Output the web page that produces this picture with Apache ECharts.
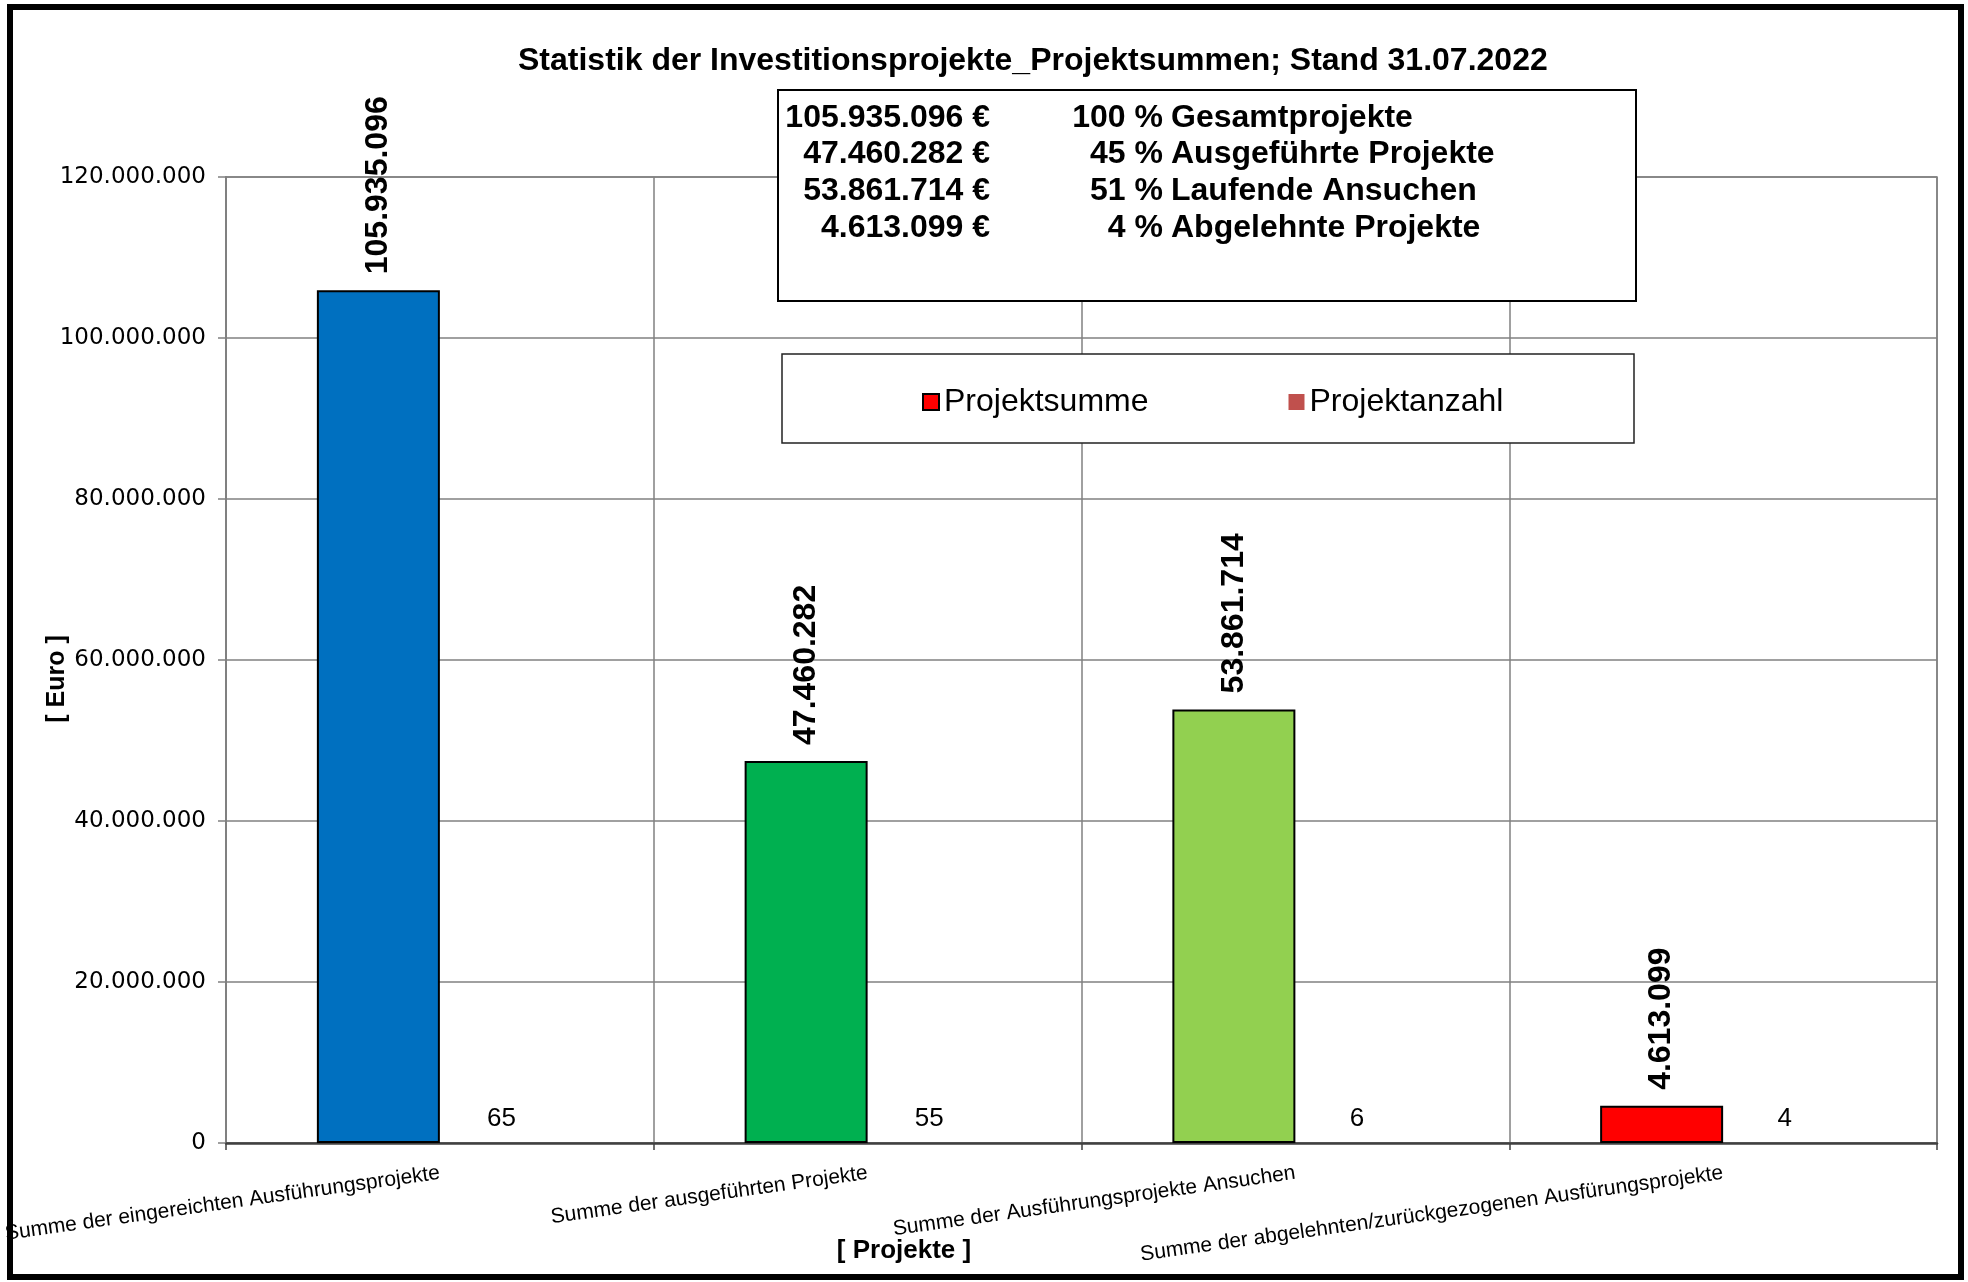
<!DOCTYPE html>
<html>
<head>
<meta charset="utf-8">
<script src="https://cdn.jsdelivr.net/npm/echarts@6/dist/echarts.min.js"></script>
<style>
html,body{margin:0;padding:0;background:#fff;}
#chart{width:1968px;height:1282px;}
</style>
</head>
<body>
<div id="chart"></div>
<script>
// ---- data ----
const titleText = 'Statistik der Investitionsprojekte_Projektsummen; Stand 31.07.2022';
const categories = [
  'Summe der eingereichten Ausführungsprojekte',
  'Summe der ausgeführten Projekte',
  'Summe der Ausführungsprojekte Ansuchen',
  'Summe der abgelehnten/zurückgezogenen Ausfürungsprojekte'
];
const projektsumme = [105935096, 47460282, 53861714, 4613099];
const projektanzahl = [65, 55, 6, 4];
const barColors = ['#0070C0', '#00B050', '#92D050', '#FF0000'];
const seriesNames = ['Projektsumme', 'Projektanzahl'];
const summaryPercents = ['100 %', '45 %', '51 %', '4 %'];
const summaryNames = ['Gesamtprojekte', 'Ausgeführte Projekte', 'Laufende Ansuchen', 'Abgelehnte Projekte'];
const yAxisName = '[ Euro ]';
const xAxisName = '[ Projekte ]';

// ---- helpers ----
const FF = '"Liberation Sans", Arial, sans-serif';
function fmt(v){ return String(Math.round(v)).replace(/\B(?=(\d{3})+(?!\d))/g, '.'); }

const chart = echarts.init(document.getElementById('chart'));

const summaryTexts = [];
const rowY = [118, 154, 191, 228];
projektsumme.forEach((v, i) => {
  summaryTexts.push({type:'text', x:990, y:rowY[i], z:6,
    style:{text: fmt(v) + ' €', font:'bold 32px ' + FF, fill:'#000', textAlign:'right', textVerticalAlign:'middle'}});
  summaryTexts.push({type:'text', x:1163, y:rowY[i], z:6,
    style:{text: summaryPercents[i], font:'bold 32px ' + FF, fill:'#000', textAlign:'right', textVerticalAlign:'middle'}});
  summaryTexts.push({type:'text', x:1171, y:rowY[i], z:6,
    style:{text: summaryNames[i], font:'bold 32px ' + FF, fill:'#000', textAlign:'left', textVerticalAlign:'middle'}});
});

const option = {
  animation: false,
  backgroundColor: '#fff',
  title: {
    text: titleText,
    left: 518, top: 45, padding: 0,
    textStyle: {fontFamily: FF, fontSize: 32, fontWeight: 'bold', color: '#000'}
  },
  legend: {
    data: [
      {name: seriesNames[0], itemStyle: {color: '#FF0000', borderColor: '#000', borderWidth: 2}},
      {name: seriesNames[1], itemStyle: {color: '#C0504D', borderWidth: 0}}
    ],
    left: 922, top: 386, padding: 0, z: 10,
    icon: 'rect', itemWidth: 16, itemHeight: 16, itemGap: 140,
    textStyle: {fontFamily: FF, fontSize: 32, color: '#000'}
  },
  grid: {
    left: 226, right: 31, top: 177, bottom: 139,
    show: true, borderColor: '#808080', borderWidth: 1.5, containLabel: false
  },
  xAxis: {
    type: 'category',
    data: categories,
    axisLine: {lineStyle: {color: '#404040', width: 2.5}},
    axisTick: {show: true, length: 7, lineStyle: {color: '#404040', width: 1.5}},
    splitLine: {show: true, interval: 0, lineStyle: {color: '#808080', width: 1.5}},
    axisLabel: {
      interval: 0, rotate: 8, margin: 30,
      fontFamily: FF, fontSize: 21, color: '#000'
    }
  },
  yAxis: {
    type: 'value',
    min: 0, max: 120000000, interval: 20000000,
    axisLine: {show: true, lineStyle: {color: '#808080', width: 2}},
    axisTick: {show: true, length: 8, lineStyle: {color: '#808080', width: 1.5}},
    splitLine: {show: true, lineStyle: {color: '#808080', width: 1.5}},
    axisLabel: {
      margin: 20, fontFamily: '"DejaVu Sans", sans-serif', fontSize: 23, color: '#000',
      formatter: v => fmt(v)
    }
  },
  series: [
    {
      name: seriesNames[0],
      type: 'bar',
      barWidth: 123,
      barGap: '0%',
      itemStyle: {color: '#FF0000', borderColor: '#000', borderWidth: 2},
      data: projektsumme.map((v, i) => ({value: v, itemStyle: {color: barColors[i]}})),
      label: {
        show: true, position: 'top', distance: 16, rotate: 90,
        align: 'left', verticalAlign: 'middle',
        fontFamily: FF, fontSize: 32, fontWeight: 'bold', color: '#000',
        formatter: p => fmt(p.value)
      }
    },
    {
      name: seriesNames[1],
      type: 'bar',
      barWidth: 123,
      itemStyle: {color: '#C0504D', borderWidth: 0},
      data: projektanzahl,
      label: {
        show: true, position: 'top', distance: 11,
        fontFamily: FF, fontSize: 26, color: '#000'
      }
    }
  ],
  graphic: [
    {type:'rect', z:3, shape:{x:778, y:90, width:858, height:211},
      style:{fill:'#fff', stroke:'#000', lineWidth:2}},
    {type:'rect', z:3, shape:{x:782, y:354, width:852, height:89},
      style:{fill:'#fff', stroke:'#222', lineWidth:1.5}},
    ...summaryTexts,
    {type:'text', x:57, y:679, rotation: Math.PI/2, z:6,
      style:{text: yAxisName, font:'bold 25px ' + FF, fill:'#000', textAlign:'center', textVerticalAlign:'middle'}},
    {type:'text', x:904, y:1251, z:6,
      style:{text: xAxisName, font:'bold 26px ' + FF, fill:'#000', textAlign:'center', textVerticalAlign:'middle'}},
    {type:'rect', z:100, shape:{x:10, y:7, width:1951, height:1270},
      style:{fill:'none', stroke:'#000', lineWidth:6}}
  ]
};
chart.setOption(option);
</script>
</body>
</html>
